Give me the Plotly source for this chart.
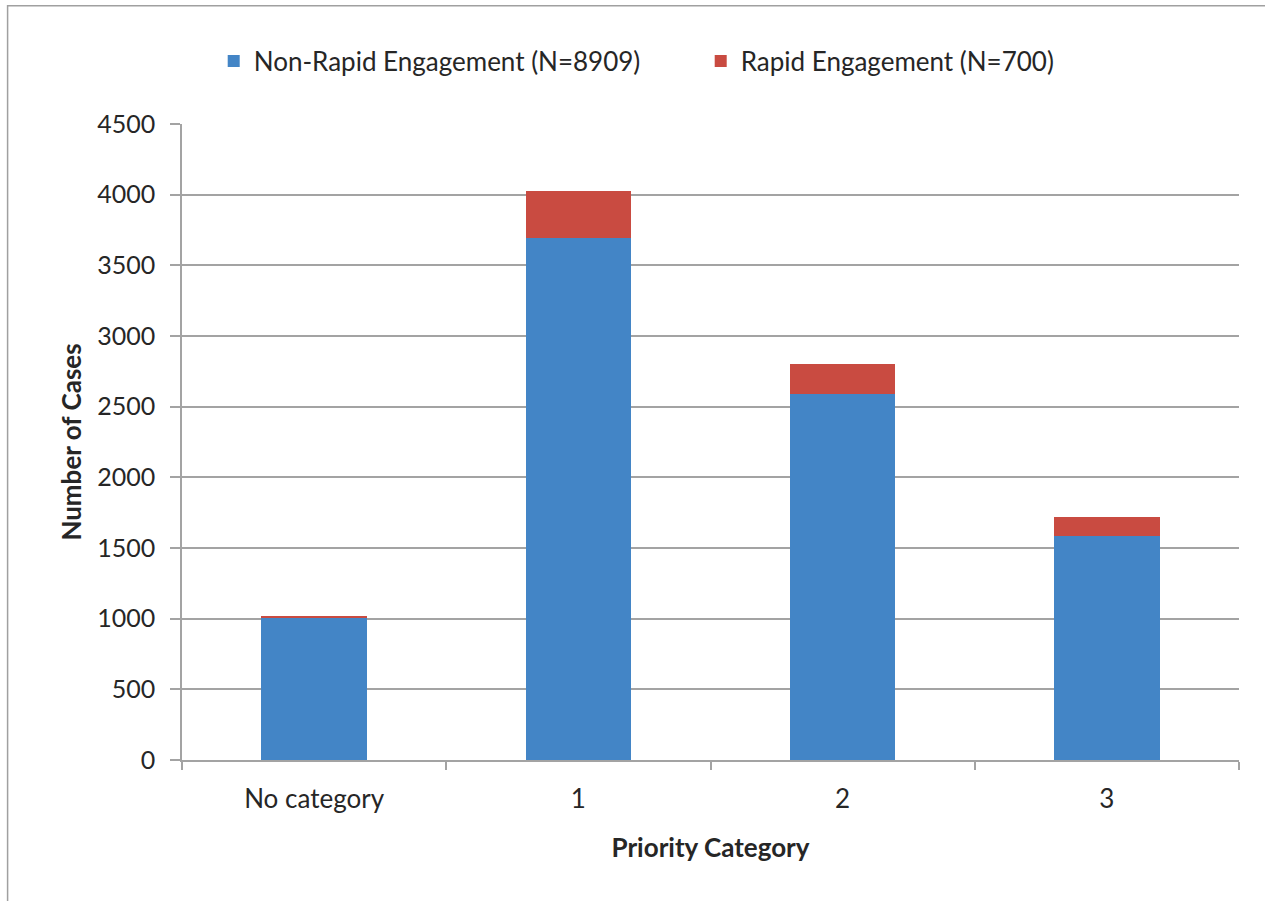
import plotly.graph_objects as go

# Cases by priority category, split by engagement speed
categories = ["No category", "1", "2", "3"]
non_rapid = [1009, 3695, 2592, 1582]
rapid = [10, 334, 212, 138]
series_names = ["Non-Rapid Engagement (N=8909)", "Rapid Engagement (N=700)"]
y_ticks = [0, 500, 1000, 1500, 2000, 2500, 3000, 3500, 4000, 4500]

FONT = "Lato"
TEXT = "#262626"
GRID = "#a3a3a3"

fig = go.Figure()
fig.add_trace(go.Bar(
    x=categories, y=non_rapid, name=series_names[0],
    marker=dict(color="#4385c6", line=dict(width=0)),
))
fig.add_trace(go.Bar(
    x=categories, y=rapid, name=series_names[1],
    marker=dict(color="#c94b41", line=dict(width=0)),
))

fig.update_layout(
    width=1265, height=901,
    barmode="stack", bargap=0.6,
    plot_bgcolor="white", paper_bgcolor="white",
    margin=dict(l=182, r=26, t=124, b=141, autoexpand=False),
    font=dict(family=FONT, size=26, color=TEXT),
    showlegend=True,
    legend=dict(
        orientation="h", x=0.03, y=1 - 61 / 901, xanchor="left", yanchor="middle",
        yref="container",
        bgcolor="rgba(0,0,0,0)",
        font=dict(family=FONT, size=26, color=TEXT),
        entrywidth=442, entrywidthmode="pixels",
        itemclick=False, traceorder="normal",
    ),
    xaxis=dict(
        type="category", showline=True, linecolor=GRID, linewidth=1.5,
        ticks="outside", tickson="boundaries", ticklen=8, tickcolor=GRID, tickwidth=1.5,
        ticklabelstandoff=15, showgrid=False,
        tickfont=dict(family=FONT, size=26, color=TEXT),
        title=dict(text="<b>Priority Category</b>", font=dict(family=FONT, size=26, color=TEXT), standoff=26),
    ),
    yaxis=dict(
        range=[0, 4500], tickvals=y_ticks, showline=True, linecolor=GRID, linewidth=1.5,
        ticks="outside", ticklen=10, tickcolor=GRID, tickwidth=1.5,
        showgrid=True, gridcolor=GRID, gridwidth=1.5, zeroline=False,
        ticklabelstandoff=10,
        tickfont=dict(family=FONT, size=25, color=TEXT),
        title=dict(text="<b>Number of Cases</b>", font=dict(family=FONT, size=26, color=TEXT), standoff=8),
    ),
)

# Outer chart frame
fig.add_shape(
    type="rect", xref="paper", yref="paper",
    x0=-0.165, x1=1.2, y0=-0.4, y1=1.186,
    line=dict(color="#a0a0a0", width=1.5), fillcolor="rgba(0,0,0,0)", layer="below",
)

fig.write_html("out.html")
